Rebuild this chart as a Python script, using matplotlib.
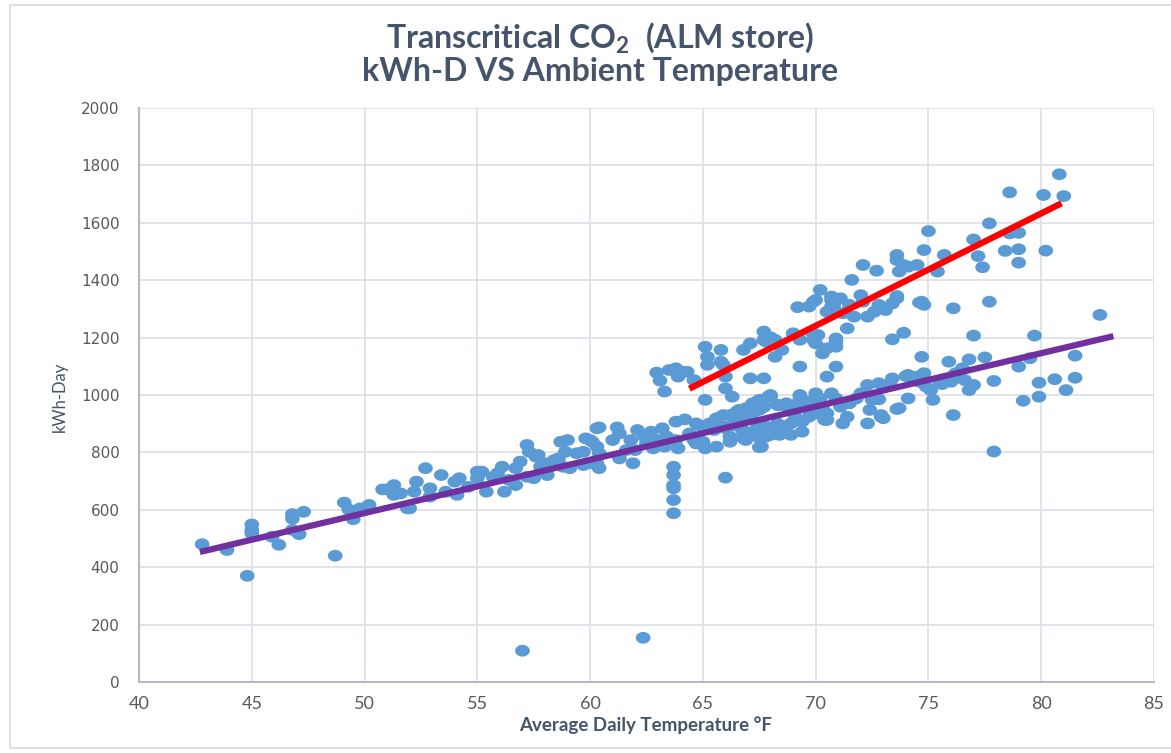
import matplotlib.pyplot as plt
import numpy as np
from matplotlib.path import Path
from matplotlib.patches import Rectangle

# daily points: (avg temp F, kWh per day)
cool_pts = [
    (42.8, 480), (43.9, 460), (45.0, 549), (45.0, 530), (45.0, 518), (44.8, 370),
    (45.9, 506), (46.2, 478), (46.8, 569), (46.8, 585), (47.3, 593), (46.8, 530),
    (47.1, 515), (48.7, 440), (49.1, 625), (49.3, 601), (49.5, 567), (49.8, 605),
    (50.2, 617), (50.8, 671), (51.0, 671), (51.3, 686), (51.3, 652), (51.6, 657),
    (51.9, 605), (52.0, 605), (52.2, 663), (52.3, 698), (52.7, 745), (52.9, 675),
    (52.9, 646), (53.4, 721), (53.6, 663), (54.0, 698), (54.2, 710), (54.1, 652),
    (54.6, 680), (55.0, 733), (55.2, 733), (55.0, 710), (55.4, 663), (55.7, 715),
    (55.9, 727), (56.1, 750), (56.2, 663), (56.4, 704), (56.7, 686), (56.7, 745),
    (56.9, 768), (57.2, 826), (57.3, 802), (57.6, 785), (57.7, 791), (57.2, 715),
    (57.5, 710), (57.8, 750), (58.0, 762), (58.1, 721), (58.4, 773), (58.6, 779),
    (58.7, 837), (59.0, 843), (58.9, 802), (58.8, 750), (59.1, 745), (59.4, 797),
    (59.7, 802), (59.8, 849), (60.1, 837), (59.7, 756), (60.0, 762), (60.3, 884),
    (60.3, 762), (60.4, 745),
]

mid_pts = [
    (60.4, 887), (60.0, 843), (60.3, 820), (60.4, 797), (61.0, 843), (61.2, 887),
    (61.3, 866), (61.3, 779), (61.6, 808), (61.8, 843), (62.1, 878), (62.0, 808),
    (61.9, 762), (62.4, 855), (62.5, 831), (62.7, 872), (62.8, 814), (63.0, 843),
    (63.2, 884), (63.3, 820), (63.4, 855), (63.7, 750), (63.7, 721), (63.7, 686),
    (63.7, 675), (63.7, 634), (63.7, 588), (63.8, 907), (64.2, 915), (63.9, 814),
    (63.8, 843), (64.4, 866), (64.7, 831), (64.8, 895), (65.1, 814), (66.0, 712),
    (65.3, 901), (65.6, 919), (65.9, 930), (66.0, 890), (66.2, 855), (66.5, 942),
    (66.6, 901), (66.8, 866), (66.9, 843), (67.2, 936), (67.4, 977), (67.5, 890),
    (67.6, 820), (67.7, 959), (67.9, 994), (67.8, 855), (68.0, 1000), (67.5, 983),
    (67.2, 971), (69.3, 1000), (66.2, 930), (66.6, 948), (66.9, 954), (66.8, 924),
    (68.3, 965), (68.6, 965), (68.9, 954), (69.2, 971), (69.6, 977), (69.9, 959),
    (70.3, 948), (64.7, 901), (65.2, 895), (65.5, 878), (65.8, 890), (66.0, 884),
    (66.3, 895), (66.6, 890), (66.9, 872), (67.1, 866), (67.4, 884), (67.7, 895),
    (68.0, 884), (68.3, 901), (68.6, 890), (68.9, 901), (69.2, 913), (69.4, 907),
    (69.7, 924), (70.0, 936), (70.4, 913), (64.6, 843), (65.0, 837), (65.6, 820),
    (66.2, 837), (66.8, 849), (67.4, 855), (68.0, 861), (68.4, 861), (68.9, 861),
    (69.4, 872), (67.5, 818),
]

warm_low_pts = [
    (67.5, 948), (67.7, 959), (68.0, 994), (68.4, 965), (68.7, 971), (69.0, 959),
    (69.1, 924), (69.3, 994), (69.4, 977), (69.7, 948), (70.0, 1006), (70.2, 988),
    (70.3, 959), (70.5, 936), (70.5, 913), (70.7, 1006), (70.9, 988), (71.1, 959),
    (71.2, 901), (71.4, 924), (71.5, 971), (71.8, 988), (72.0, 1006), (72.3, 1035),
    (72.4, 948), (72.3, 901), (72.5, 983), (72.8, 1041), (72.9, 924), (73.3, 1041),
    (73.4, 1058), (73.7, 954), (74.1, 988), (74.1, 1070), (74.5, 1064), (74.8, 1076),
    (75.1, 1017), (75.2, 983), (75.5, 1046), (76.0, 1046), (76.1, 930), (76.2, 1076),
    (74.0, 1066), (74.3, 1061), (74.6, 1046), (74.9, 1029), (75.6, 1038), (75.9, 1052),
    (76.5, 1093), (76.6, 1052), (76.8, 1017), (77.0, 1035), (77.9, 1049), (79.9, 1043),
    (80.6, 1055), (81.5, 1060), (79.2, 980), (79.9, 994), (81.1, 1017), (72.8, 985),
    (73.6, 951), (72.9, 930), (73.0, 919), (77.9, 803), (70.9, 1099), (74.7, 1133),
    (75.9, 1116), (76.8, 1124), (77.5, 1131), (79.5, 1128), (81.5, 1137), (79.0, 1099),
    (73.4, 1194), (73.9, 1217), (77.0, 1207), (79.7, 1207),
]

warm_high_pts = [
    (62.95, 1078), (63.1, 1050), (63.3, 1012), (63.5, 1087), (63.8, 1093), (63.9, 1064),
    (64.1, 1081), (64.3, 1081), (64.6, 1052), (65.1, 1168), (65.2, 1133), (65.2, 1105),
    (65.8, 1157), (65.8, 1116), (65.9, 1105), (66.0, 1064), (66.0, 1023), (66.3, 994),
    (65.1, 983), (66.8, 1157), (67.1, 1180), (67.1, 1058), (67.7, 1058), (67.8, 1186),
    (67.7, 1221), (67.7, 1192), (68.0, 1201), (68.2, 1133), (68.5, 1157), (69.0, 1215),
    (69.3, 1099), (69.2, 1306), (69.7, 1308), (70.0, 1331), (70.2, 1366), (69.8, 1221),
    (70.1, 1209), (70.0, 1180), (70.3, 1145), (70.5, 1290), (70.7, 1343), (70.8, 1314),
    (70.9, 1186), (70.5, 1064), (68.2, 1192), (69.3, 1192), (69.9, 1325), (70.7, 1331),
    (70.7, 1308), (71.1, 1337), (70.9, 1290), (69.9, 1192), (70.5, 1163), (70.9, 1197),
    (70.9, 1168), (71.4, 1232), (71.2, 1285), (71.5, 1314), (71.7, 1273), (72.0, 1348),
    (72.1, 1325), (72.3, 1273), (72.6, 1290), (72.8, 1314), (73.1, 1296), (73.4, 1319),
    (73.6, 1337), (73.6, 1345), (71.6, 1401), (72.1, 1453), (72.7, 1433), (73.6, 1488),
    (73.6, 1470), (73.9, 1453), (73.7, 1430), (74.1, 1447), (74.5, 1453), (74.8, 1505),
    (75.4, 1430), (75.7, 1488), (74.7, 1325), (74.8, 1314), (74.6, 1322), (76.1, 1302),
    (80.8, 1769), (78.6, 1706), (80.1, 1697), (81.0, 1693), (77.7, 1598), (75.0, 1571),
    (78.6, 1563), (79.0, 1565), (77.0, 1542), (78.4, 1502), (79.0, 1508), (80.2, 1503),
    (77.2, 1484), (79.0, 1461), (77.4, 1445), (77.7, 1325), (82.6, 1279),
]

outlier_pts = [(57.0, 109), (62.35, 154)]

# trend line ends
purple_x = [42.7, 83.2]
purple_y = [453, 1205]
red_x = [64.4, 80.9]
red_y = [1022, 1668]

x_ticks = list(range(40, 90, 5))
y_ticks = list(range(0, 2200, 200))

plt.rcParams['mathtext.fontset'] = 'custom'
plt.rcParams['mathtext.rm'] = 'Lato'
plt.rcParams['mathtext.bf'] = 'Lato:bold'

TITLE_COL = '#44546a'
TICK_COL = '#595959'

fig = plt.figure(figsize=(11.71, 7.53), dpi=100)
fig.patches.append(Rectangle((0.0085, 0.0066), 1.0, 0.987, transform=fig.transFigure,
                             fill=False, edgecolor='#d9d9d9', lw=1.2))

ax = fig.add_axes([0.1187, 0.0943, 0.8668, 0.7623])

all_pts = cool_pts + mid_pts + warm_low_pts + warm_high_pts + outlier_pts
xs = [p[0] for p in all_pts]
ys = [p[1] for p in all_pts]

# excel-like oval marker, a bit wider than tall
t = np.linspace(0, 2 * np.pi, 40)
oval = Path(np.column_stack([np.cos(t), 0.8 * np.sin(t)]), closed=True)
ax.scatter(xs, ys, s=112, marker=oval, c='#5b9bd5', edgecolors='none', zorder=3)

ax.plot(purple_x, purple_y, color='#7030a0', lw=4.5, solid_capstyle='butt', zorder=4)
ax.plot(red_x, red_y, color='#ff0000', lw=4.5, solid_capstyle='butt', zorder=4)

ax.set_xlim(40, 85)
ax.set_ylim(0, 2000)
ax.set_xticks(x_ticks)
ax.set_yticks(y_ticks)
ax.grid(True, color='#dde1e8', lw=1.3)
ax.set_axisbelow(True)
for s in ['top', 'right']:
    ax.spines[s].set_visible(False)
for s in ['left', 'bottom']:
    ax.spines[s].set_color('#b4bac4')
    ax.spines[s].set_linewidth(1.5)

ax.tick_params(axis='both', length=0)
ax.tick_params(axis='y', pad=14, labelsize=11, labelcolor=TICK_COL)
ax.tick_params(axis='x', pad=10, labelsize=13, labelcolor=TICK_COL)
for lb in ax.get_xticklabels():
    lb.set_family(['Liberation Sans Narrow', 'Lato'])

fig.text(0.5125, 1 - 38 / 753, 'Transcritical CO$_\\mathbf{2}$  (ALM store)', ha='center',
         va='center', fontsize=23, fontweight='bold', color=TITLE_COL, family='Lato')
fig.text(0.5125, 1 - 71 / 753, 'kWh-D VS Ambient Temperature', ha='center',
         va='center', fontsize=23, fontweight='bold', color=TITLE_COL, family='Lato')
fig.text(0.551, 1 - 725 / 753, 'Average Daily Temperature °F', ha='center', va='center',
         fontsize=13.5, fontweight='bold', color=TITLE_COL, family='Lato')
fig.text(60 / 1171, 1 - 397 / 753, 'kWh-Day', ha='center', va='center', rotation=90,
         fontsize=12, color=TITLE_COL, family='Lato')

fig.savefig('out.png', dpi=100)
